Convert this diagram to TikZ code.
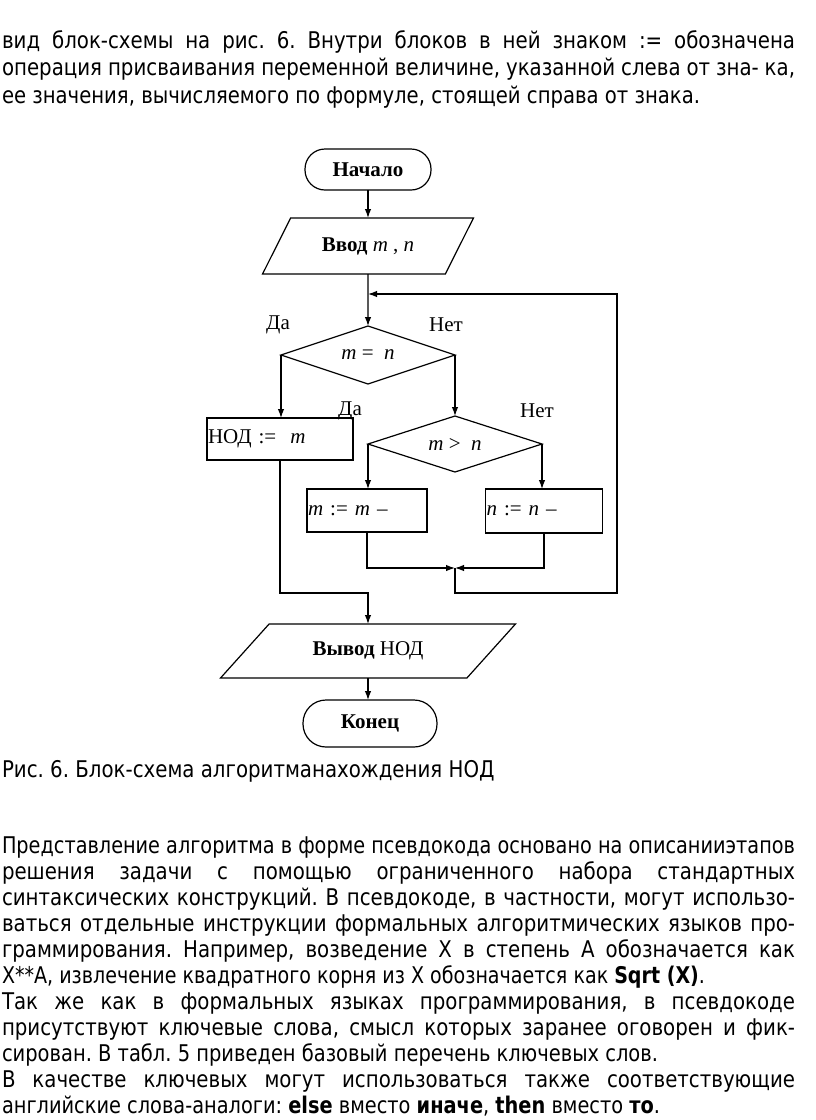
\documentclass[tikz,border=0pt]{standalone}
\usepackage{fontspec}
\usepackage{graphicx}
\setmainfont{DejaVu Sans}[FakeStretch=0.86]
\newfontfamily\chartfont{Liberation Serif}
\usetikzlibrary{shapes.geometric,arrows.meta,positioning}
\newcommand{\fullline}[1]{\makebox[793pt][s]{#1}}
\newcommand{\fitline}[2]{\resizebox{#1}{\height}{#2}}
\frenchspacing

\begin{document}
\begin{tikzpicture}[x=1pt,y=-1pt,line width=1.2pt,
  every node/.style={inner sep=0pt,outer sep=0pt},
  txt/.style={anchor=base west,font=\fontsize{23}{26}\selectfont},
  chart/.style={font=\chartfont\fontsize{21}{24}\selectfont},
  term/.style={chart,draw,rectangle,rounded corners=20pt,font=\chartfont\fontsize{21}{24}\selectfont\bfseries},
  io/.style={chart,draw,trapezium,trapezium stretches=true},
  cond/.style={chart,draw,diamond,aspect=3,minimum width=174pt},
  proc/.style={chart,draw,rectangle,align=left,inner sep=1pt},
  lab/.style={chart},
  flow/.style={-{Latex[length=9pt,width=6.5pt]}}]
\useasboundingbox (0,0) rectangle (816,1120);

% text above the chart
\node[txt] (t1) at (2,48) {\fullline{вид блок-схемы на рис. 6. Внутри блоков в ней знаком := обозначена}};
\node[txt] (t2) at (2,75.5) {\fullline{операция присваивания переменной величине, указанной слева от зна- ка,}};
\node[txt] (t3) at (2,103) {\fitline{698pt}{ее значения, вычисляемого по формуле, стоящей справа от знака.}};

% blocks
\node[term,minimum width=126pt,minimum height=41pt] (start) at (368,169.5) {Начало};
\node[io,minimum width=211pt,minimum height=56pt,trapezium left angle=46,trapezium right angle=134] (in) at (368,246) {\textbf{Ввод} \textit{m} , \textit{n}};
\node[cond,minimum height=58pt] (d1) at (368,355) {\textit{m} =\ \ \textit{n}};
\node[cond,minimum height=56pt] (d2) at (455,444) {\textit{m} >\ \ \textit{n}};
\node[proc,minimum width=146pt,minimum height=42pt,text width=144pt] (gcd) at (280,439) {НОД :=\ \ \textit{m}};
\node[proc,minimum width=120pt,minimum height=43pt,text width=118pt] (decm) at (367,510.5) {\textit{m} := \textit{m} –};
\node[proc,minimum width=117pt,minimum height=44pt,text width=115pt] (decn) at (544,511) {\textit{n} := \textit{n} –};
\node[io,minimum width=295pt,minimum height=54pt,trapezium left angle=34,trapezium right angle=146] (out) at (368,651) {\textbf{Вывод} НОД};
\node[term,minimum width=134pt,minimum height=47pt,rounded corners=23pt] (stop) at (370,723.5) {Конец};

% branch labels
\node[lab] (yes1) at (278,325) {Да};
\node[lab] (no1) at (446,325) {Нет};
\node[lab] (yes2) at (350,411) {Да};
\node[lab] (no2) at (537,411) {Нет};

\coordinate (loopin) at (368,294);
\coordinate (merge) at (455,568);
\coordinate (loop) at (617,593);
\coordinate (join) at (368,593);

% connectors
\draw[flow] (start.south) -- (start.south |- in.north);
\draw[flow] (in.south) -- (d1.north);
\draw[flow] (d1.west) -- (d1.west |- gcd.north);
\draw[flow] (d1.east) -- (d1.east |- d2.north);
\draw[flow] (d2.west) -- (d2.west |- decm.north);
\draw[flow] (d2.east) -- (d2.east |- decn.north);
\draw[flow] (decm.south) |- (merge);
\draw[flow] (decn.south) |- (merge);
\draw[flow] (merge) -- (merge |- loop) -- (loop) |- (loopin);
\draw[flow] (gcd.south) |- (join) -- (join |- out.north);
\draw[flow] (out.south) -- (out.south |- stop.north);

% caption and text below
\node[txt] (cap) at (2,777) {Рис. 6. Блок-схема алгоритманахождения НОД};
\node[txt] (b1) at (2,853) {\fitline{793pt}{Представление алгоритма в форме псевдокода основано на описанииэтапов}};
\node[txt] (b2) at (2,879) {\fullline{решения задачи с помощью ограниченного набора стандартных}};
\node[txt] (b3) at (2,905) {\fullline{синтаксических конструкций. В псевдокоде, в частности, могут использо-}};
\node[txt] (b4) at (2,931) {\fullline{ваться отдельные инструкции формальных алгоритмических языков про-}};
\node[txt] (b5) at (2,957) {\fullline{граммирования. Например, возведение X в степень A обозначается как}};
\node[txt] (b6) at (2,983) {\fitline{703pt}{X**A, извлечение квадратного корня из X обозначается как \textbf{Sqrt (X)}.}};
\node[txt] (b7) at (2,1009) {\fullline{Так же как в формальных языках программирования, в псевдокоде}};
\node[txt] (b8) at (2,1035) {\fullline{присутствуют ключевые слова, смысл которых заранее оговорен и фик-}};
\node[txt] (b9) at (2,1061) {\fitline{656pt}{сирован. В табл. 5 приведен базовый перечень ключевых слов.}};
\node[txt] (b10) at (2,1087) {\fullline{В качестве ключевых могут использоваться также соответствующие}};
\node[txt] (b11) at (2,1113) {\fitline{658pt}{английские слова-аналоги: \textbf{else} вместо \textbf{иначе}, \textbf{then} вместо \textbf{то}.}};
\end{tikzpicture}
\end{document}
